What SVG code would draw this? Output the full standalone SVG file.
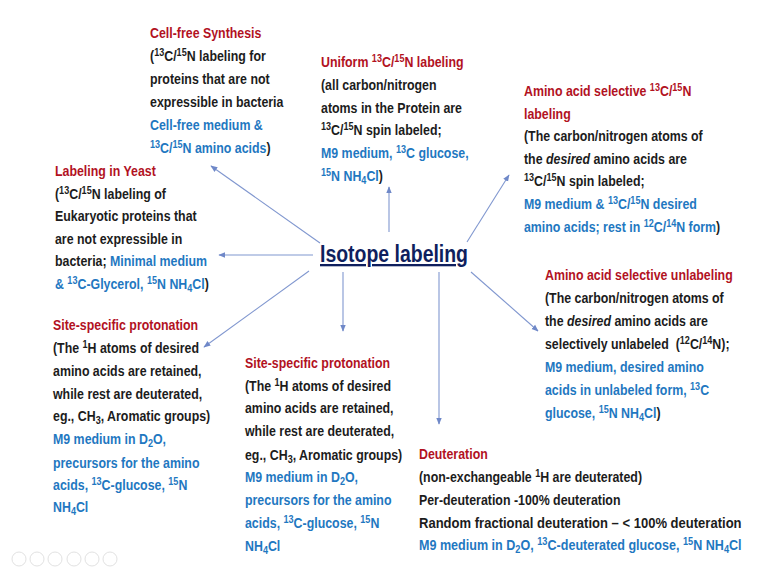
<svg xmlns="http://www.w3.org/2000/svg" width="767" height="576" viewBox="0 0 767 576">
<style>
text{font-family:"Liberation Sans",Arial,sans-serif;font-weight:bold;font-size:15px;fill:#1c1c1c}
.r{fill:#b2121f}
.b{fill:#1f78c1}
.s{font-size:11px;baseline-shift:5px}
.d{font-size:11px;baseline-shift:-3px}
.i{font-style:italic}
.title{font-size:23px;fill:#0f1f5e;text-decoration:underline}
.con line{stroke:#8097cf;stroke-width:1.1;marker-end:url(#ah)}
.ui circle{fill:none;stroke:#e2e2e2;stroke-width:1}
</style>
<defs>
<marker id="ah" viewBox="0 0 10 10" refX="9" refY="5" markerWidth="7" markerHeight="7" orient="auto" markerUnits="userSpaceOnUse">
<path d="M0,1 L10,5 L0,9 z" fill="#6f88c8"/>
</marker>
</defs>
<rect width="767" height="576" fill="#ffffff"/>

<g id="connectors" class="con">
<line x1="320" y1="243" x2="211" y2="166"/>
<line x1="313" y1="255" x2="219" y2="255"/>
<line x1="389" y1="232" x2="389" y2="187"/>
<line x1="467" y1="242" x2="509" y2="175"/>
<line x1="309" y1="271" x2="204" y2="347"/>
<line x1="343" y1="272" x2="343" y2="331"/>
<line x1="439" y1="272" x2="439" y2="424"/>
<line x1="471" y1="272" x2="538" y2="331"/>
</g>

<g id="center">
<text class="title" x="320" y="262" textLength="148" lengthAdjust="spacingAndGlyphs">Isotope labeling</text>
</g>

<g id="cell-free" transform="matrix(0.825,0,0,1,26.25,0)">
<text x="150" y="38" class="r">Cell-free Synthesis</text>
<text x="150" y="61">(<tspan class="s">13</tspan>C/<tspan class="s">15</tspan>N labeling for</text>
<text x="150" y="84">proteins that are not</text>
<text x="150" y="107">expressible in bacteria</text>
<text x="150" y="130" class="b">Cell-free medium &amp;</text>
<text x="150" y="153"><tspan class="b"><tspan class="s">13</tspan>C/<tspan class="s">15</tspan>N amino acids</tspan>)</text>
</g>

<g id="uniform" transform="matrix(0.825,0,0,1,56.175,0)">
<text x="321" y="67" class="r">Uniform <tspan class="s">13</tspan>C/<tspan class="s">15</tspan>N labeling</text>
<text x="321" y="90">(all carbon/nitrogen</text>
<text x="321" y="113">atoms in the Protein are</text>
<text x="321" y="135"><tspan class="s">13</tspan>C/<tspan class="s">15</tspan>N spin labeled;</text>
<text x="321" y="158" class="b">M9 medium, <tspan class="s">13</tspan>C glucose,</text>
<text x="321" y="181"><tspan class="b"><tspan class="s">15</tspan>N NH<tspan class="d">4</tspan>Cl</tspan>)</text>
</g>

<g id="aa-selective" transform="matrix(0.825,0,0,1,91.7,0)">
<text x="524" y="96" class="r">Amino acid selective <tspan class="s">13</tspan>C/<tspan class="s">15</tspan>N</text>
<text x="524" y="119" class="r">labeling</text>
<text x="524" y="141">(The carbon/nitrogen atoms of</text>
<text x="524" y="164">the <tspan class="i">desired</tspan> amino acids are</text>
<text x="524" y="186"><tspan class="s">13</tspan>C/<tspan class="s">15</tspan>N spin labeled;</text>
<text x="524" y="209" class="b">M9 medium &amp; <tspan class="s">13</tspan>C/<tspan class="s">15</tspan>N desired</text>
<text x="524" y="232"><tspan class="b">amino acids; rest in <tspan class="s">12</tspan>C/<tspan class="s">14</tspan>N form</tspan>)</text>
</g>

<g id="yeast" transform="matrix(0.825,0,0,1,9.625,0)">
<text x="55" y="176" class="r">Labeling in Yeast</text>
<text x="55" y="199">(<tspan class="s">13</tspan>C/<tspan class="s">15</tspan>N labeling of</text>
<text x="55" y="221">Eukaryotic proteins that</text>
<text x="55" y="244">are not expressible in</text>
<text x="55" y="266">bacteria; <tspan class="b">Minimal medium</tspan></text>
<text x="55" y="289"><tspan class="b">&amp; <tspan class="s">13</tspan>C-Glycerol, <tspan class="s">15</tspan>N NH<tspan class="d">4</tspan>Cl</tspan>)</text>
</g>

<g id="aa-unlabeling" transform="matrix(0.825,0,0,1,95.375,0)">
<text x="545" y="280" class="r">Amino acid selective unlabeling</text>
<text x="545" y="303">(The carbon/nitrogen atoms of</text>
<text x="545" y="326">the <tspan class="i">desired</tspan> amino acids are</text>
<text x="545" y="349">selectively unlabeled &#160;(<tspan class="s">12</tspan>C/<tspan class="s">14</tspan>N);</text>
<text x="545" y="372" class="b">M9 medium, desired amino</text>
<text x="545" y="395" class="b">acids in unlabeled form, <tspan class="s">13</tspan>C</text>
<text x="545" y="418"><tspan class="b">glucose, <tspan class="s">15</tspan>N NH<tspan class="d">4</tspan>Cl</tspan>)</text>
</g>

<g id="site-specific-left" transform="matrix(0.825,0,0,1,9.275,0)">
<text x="53" y="330" class="r">Site-specific protonation</text>
<text x="53" y="353">(The <tspan class="s">1</tspan>H atoms of desired</text>
<text x="53" y="376">amino acids are retained,</text>
<text x="53" y="399">while rest are deuterated,</text>
<text x="53" y="421">eg., CH<tspan class="d">3</tspan>, Aromatic groups)</text>
<text x="53" y="444" class="b">M9 medium in D<tspan class="d">2</tspan>O,</text>
<text x="53" y="468" class="b">precursors for the amino</text>
<text x="53" y="490" class="b">acids, <tspan class="s">13</tspan>C-glucose, <tspan class="s">15</tspan>N</text>
<text x="53" y="512" class="b">NH<tspan class="d">4</tspan>Cl</text>
</g>

<g id="site-specific-middle" transform="matrix(0.825,0,0,1,42.875,0)">
<text x="245" y="368" class="r">Site-specific protonation</text>
<text x="245" y="391">(The <tspan class="s">1</tspan>H atoms of desired</text>
<text x="245" y="413">amino acids are retained,</text>
<text x="245" y="436">while rest are deuterated,</text>
<text x="245" y="460">eg., CH<tspan class="d">3</tspan>, Aromatic groups)</text>
<text x="245" y="482" class="b">M9 medium in D<tspan class="d">2</tspan>O,</text>
<text x="245" y="505" class="b">precursors for the amino</text>
<text x="245" y="528" class="b">acids, <tspan class="s">13</tspan>C-glucose, <tspan class="s">15</tspan>N</text>
<text x="245" y="551" class="b">NH<tspan class="d">4</tspan>Cl</text>
</g>

<g id="deuteration" transform="matrix(0.825,0,0,1,73.325,0)">
<text x="419" y="459" class="r">Deuteration</text>
<text x="419" y="482">(non-exchangeable <tspan class="s">1</tspan>H are deuterated)</text>
<text x="419" y="505">Per-deuteration -100% deuteration</text>
<text x="419" y="528" textLength="391" lengthAdjust="spacingAndGlyphs">Random fractional deuteration – &lt; 100% deuteration</text>
<text x="419" y="550" class="b" textLength="391" lengthAdjust="spacingAndGlyphs">M9 medium in D<tspan class="d">2</tspan>O, <tspan class="s">13</tspan>C-deuterated glucose, <tspan class="s">15</tspan>N NH<tspan class="d">4</tspan>Cl</text>
</g>

<g id="ui" class="ui">
<circle cx="19" cy="559" r="7"/>
<circle cx="37" cy="559" r="7"/>
<circle cx="55" cy="559" r="7"/>
<circle cx="74" cy="559" r="7"/>
<circle cx="92" cy="559" r="7"/>
<circle cx="110" cy="559" r="7"/>
</g>
</svg>
